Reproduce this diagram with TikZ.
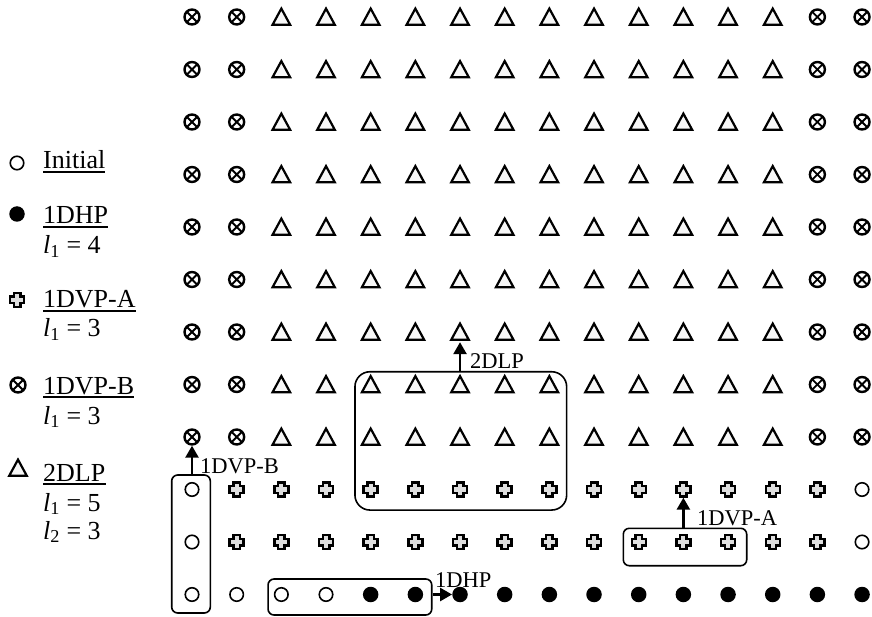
\documentclass[tikz,border=0pt]{standalone}
\usepackage{fontspec}
\setmainfont{Liberation Serif}
\usetikzlibrary{arrows.meta}
\tikzset{
  pics/symdlp/.style={code={\draw[line width=2.2pt,fill=gray!6,line join=miter] (-8.8,7.8)--(8.8,7.8)--(0,-8.4)--cycle;}},
  pics/symvpa/.style={code={\draw[line width=2.4pt,fill=gray!25] (-3.3,-7)--(3.3,-7)--(3.3,-3.3)--(7,-3.3)--(7,3.3)--(3.3,3.3)--(3.3,7)--(-3.3,7)--(-3.3,3.3)--(-7,3.3)--(-7,-3.3)--(-3.3,-3.3)--cycle;}},
  pics/symini/.style={code={}},
  pics/symdhp/.style={code={}},
  pics/symvpb/.style={code={}},
}
\begin{document}
\begin{tikzpicture}[x=1pt,y=-1pt,
  ini/.style={circle,draw,line width=1.6pt,minimum size=13.5pt,inner sep=0pt},
  dhp/.style={circle,fill=black,minimum size=15.5pt,inner sep=0pt},
  vpb/.style={circle,draw,line width=2.4pt,minimum size=15pt,inner sep=0pt,
    path picture={\draw[line width=1.9pt] (path picture bounding box.north west)--(path picture bounding box.south east) (path picture bounding box.north east)--(path picture bounding box.south west);}},
  dlp/.style={rectangle,inner sep=0pt,minimum width=19pt,minimum height=20pt},
  vpa/.style={rectangle,inner sep=0pt,minimum size=16pt},
  boxs/.style={draw,line width=1.6pt,rounded corners=6pt,inner sep=0pt},
  arr/.style={line width=2.6pt,-{Triangle[length=12pt,width=13pt]}},
  lgd/.style={anchor=base west,inner sep=0pt,font=\fontsize{26}{30}\selectfont},
  lbl/.style={anchor=base west,inner sep=0pt,font=\fontsize{22.5}{27}\selectfont},
  ul/.style={line width=1.8pt}
]
\useasboundingbox (0,0) rectangle (872,617);

% grid of cells
\foreach \rr in {0,...,11}{
  \foreach \cc in {0,...,15}{
    \pgfmathsetmacro\px{192+44.67*\cc}
    \pgfmathsetmacro\py{17+52.5*\rr}
    \ifnum\rr<9
      \ifnum\cc<2 \def\typ{vpb}\else\ifnum\cc>13 \def\typ{vpb}\else\def\typ{dlp}\fi\fi
    \else\ifnum\rr<11
      \ifnum\cc=0 \def\typ{ini}\else\ifnum\cc=15 \def\typ{ini}\else\def\typ{vpa}\fi\fi
    \else
      \ifnum\cc<4 \def\typ{ini}\else\def\typ{dhp}\fi
    \fi\fi
    \edef\tmp{\noexpand\node[\typ] (c-\rr-\cc) at (\px,\py) {}; \noexpand\pic at (\px,\py) {sym\typ};}
    \tmp
  }
}

% boxes
\node[boxs,minimum width=38.6pt,minimum height=138pt] (vbox) at (191,544) {};
\node[boxs,minimum width=163.7pt,minimum height=36pt] (hbox) at (349.9,597) {};
\node[boxs,rounded corners=15pt,minimum width=211.7pt,minimum height=138.3pt] (bbox) at (460.8,440.9) {};
\node[boxs,minimum width=123.4pt,minimum height=37.4pt] (abox) at (685,547) {};

% arrows
\draw[arr] (vbox.north -| c-8-0) -- (c-8-0.south);
\draw[arr] (bbox.north -| c-6-6) -- (c-6-6.south);
\draw[arr] (abox.north -| c-9-11) -- (c-9-11.south);
\draw[arr] (hbox.east |- c-11-6) -- (c-11-6.west);

% arrow labels
\node[lbl] (lbB) at (200,473) {1DVP-B};
\node[lbl] (lb2) at (470,368) {2DLP};
\node[lbl] (lbA) at (697,525) {1DVP-A};
\node[lbl] (lbH) at (435,587) {1DHP};

% legend
\node[ini] (k1) at (17,163) {};
\node[dhp] (k2) at (17,214) {};
\node[vpa] (k3) at (17,300) {}; \pic at (17,300) {symvpa};
\node[vpb] (k4) at (18,385) {};
\node[dlp] (k5) at (18,468) {}; \pic at (18,468) {symdlp};

\node[lgd] (t1) at (43,169) {Initial};
\node[lgd] (t2) at (43,224) {1DHP};
\node[lgd] (t2a) at (43,254) {\textit{l}\textsubscript{1} = 4};
\node[lgd] (t3) at (43,308) {1DVP-A};
\node[lgd] (t3a) at (43,337) {\textit{l}\textsubscript{1} = 3};
\node[lgd] (t4) at (43,394) {1DVP-B};
\node[lgd] (t4a) at (43,424) {\textit{l}\textsubscript{1} = 3};
\node[lgd] (t5) at (43,481) {2DLP};
\node[lgd] (t5a) at (43,511) {\textit{l}\textsubscript{1} = 5};
\node[lgd] (t5b) at (43,539) {\textit{l}\textsubscript{2} = 3};

\foreach \t in {t1,t2,t3,t4,t5}{
  \draw[ul] ([yshift=-3pt]\t.base west) -- ([yshift=-3pt]\t.base east);
}
\end{tikzpicture}
\end{document}
